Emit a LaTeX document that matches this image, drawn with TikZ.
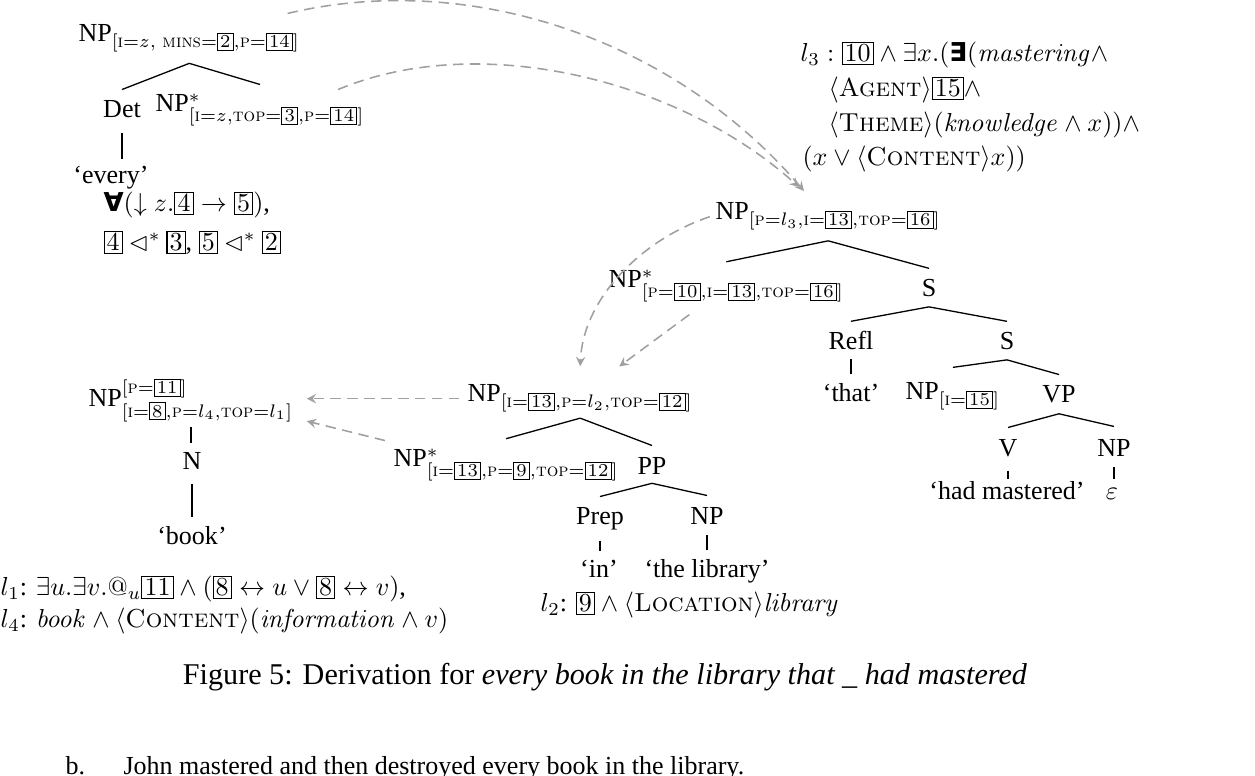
\documentclass[tikz,border=0pt]{standalone}
\usepackage{amsmath,amssymb}
\usepackage[no-math]{fontspec}
\setmainfont{Liberation Serif}
\newfontfamily\dvs{DejaVu Sans}
\usetikzlibrary{arrows}
\definecolor{move}{RGB}{160,160,160}
\newcommand\ft[1]{\text{\fontfamily{lmr}\selectfont\scshape #1}}
\newcommand\bx[1]{\text{\fboxsep=0.8pt\fboxrule=0.4pt\fbox{$#1$}}}
\newcommand\qall{\text{\dvs\bfseries\char"2200}}
\newcommand\qex{\text{\dvs\bfseries\char"2203}}

\begin{document}
\begin{tikzpicture}[
            x=0.3846pt, y=-0.3846pt,
            lab/.style={inner sep=0pt, anchor=base},
            labw/.style={inner sep=0pt, anchor=base west},
            br/.style={line width=0.5pt},
            un/.style={line width=0.5pt, shorten <=3.8pt, shorten >=3.5pt},
            mv/.style={->, >=stealth, move, line width=0.6pt, dash pattern=on 4pt off 2.5pt}
        ]
        \useasboundingbox (0,0) rectangle (1255,776);

        % every
        \node[labw] (np1) at (78,42) {NP$_{[\ft{i}=z,\ \ft{mins}=\bx{2},\ft{p}=\bx{14}]}$};
        \node[lab] (det) at (122,118) {Det};
        \node[labw] (npf1) at (155,112) {NP$^*_{[\ft{i}=z,\ft{top}=\bx{3},\ft{p}=\bx{14}]}$};
        \node[lab] (every) at (111,184) {`every'};
        \node[labw] (semA) at (103,212) {$\qall(\downarrow z.\bx{4}\rightarrow\bx{5})$,};
        \node[labw] (semB) at (103,251) {$\bx{4}\lhd^*\bx{3}$, $\bx{5}\lhd^*\bx{2}$};

        % l3 semantics
        \node[labw] (lthA) at (800,62) {$l_3 : \bx{10}\wedge\exists x.(\qex(\mathit{mastering}\wedge$};
        \node[labw] (lthB) at (828,97) {$\langle\ft{Agent}\rangle\bx{15}\wedge$};
        \node[labw] (lthC) at (828,132) {$\langle\ft{Theme}\rangle(\mathit{knowledge}\wedge x))\wedge$};
        \node[labw] (lthD) at (802,166) {$(x\vee\langle\ft{Content}\rangle x))$};
        \coordinate (tipa) at (804,191);
        \coordinate (tipb) at (799,187);

        % relative clause
        \node[labw] (npT) at (715,220) {NP$_{[\ft{p}=l_3,\ft{i}=\bx{13},\ft{top}=\bx{16}]}$};
        \node[labw] (npS) at (608,288) {NP$^*_{[\ft{p}=\bx{10},\ft{i}=\bx{13},\ft{top}=\bx{16}]}$};
        \node[lab] (sa) at (929,297) {S};
        \node[lab] (refl) at (851,350) {Refl};
        \node[lab] (that) at (851,402) {`that'};
        \node[lab] (sb) at (1007,350) {S};
        \node[labw] (npI) at (905,400) {NP$_{[\ft{i}=\bx{15}]}$};
        \node[lab] (vp) at (1059,403) {VP};
        \node[lab] (v) at (1008,457) {V};
        \node[lab] (npe) at (1114,457) {NP};
        \node[lab] (hadm) at (1007,500) {`had mastered'};
        \node[lab] (eps) at (1112,500) {$\varepsilon$};

        % in the library
        \node[labw] (npL) at (467,402) {NP$_{[\ft{i}=\bx{13},\ft{p}=l_2,\ft{top}=\bx{12}]}$};
        \node[labw] (npLS) at (393,467) {NP$^*_{[\ft{i}=\bx{13},\ft{p}=\bx{9},\ft{top}=\bx{12}]}$};
        \node[lab] (pp) at (652,475) {PP};
        \node[lab] (prep) at (600,525) {Prep};
        \node[lab] (npl) at (707,525) {NP};
        \node[lab] (in) at (599,578) {`in'};
        \node[lab] (lib) at (707,578) {`the library'};
        \node[labw] (ltwo) at (540,612) {$l_2$: $\bx{9}\wedge\langle\ft{Location}\rangle\mathit{library}$};

        % book
        \node[labw] (npB) at (88,407) {NP$^{[\ft{p}=\bx{11}]}_{[\ft{i}=\bx{8},\ft{p}=l_4,\ft{top}=l_1]}$};
        \node[lab] (n) at (192,470) {N};
        \node[lab] (book) at (192,545) {`book'};
        \node[labw] (lone) at (0,596) {$l_1$: $\exists u.\exists v.@_u\bx{11}\wedge(\bx{8}\leftrightarrow u\vee\bx{8}\leftrightarrow v)$,};
        \node[labw] (lfour) at (0,628) {$l_4$: $\mathit{book}\wedge\langle\ft{Content}\rangle(\mathit{information}\wedge v)$};

        % caption
        \node[lab, font=\fontsize{11.6}{14}\selectfont] (cap) at (605,685) {Figure 5: Derivation for \textit{every book in the library that \_ had mastered}};
        \node[labw] (exb) at (65,775) {b.};
        \node[labw] (exs) at (123,775) {John mastered and then destroyed every book in the library.};

        % branches
        \draw[br] ([yshift=-4pt]np1.south) -- ([yshift=4.2pt]det.north);
        \draw[br] ([yshift=-4pt]np1.south) -- ([yshift=3.5pt]npf1.north);
        \draw[br] ([yshift=-3.8pt]npT.south) -- ([yshift=3pt]npS.north);
        \draw[br] ([yshift=-3.8pt]npT.south) -- ([yshift=4.2pt]sa.north);
        \draw[br] ([yshift=-3.5pt]sa.south) -- ([yshift=3.8pt]refl.north);
        \draw[br] ([yshift=-3.5pt]sa.south) -- ([yshift=4.2pt]sb.north);
        \draw[br] ([yshift=-3.5pt]sb.south) -- ([yshift=5.8pt]npI.north);
        \draw[br] ([yshift=-3.5pt]sb.south) -- ([yshift=4.2pt]vp.north);
        \draw[br] ([yshift=-3.8pt]vp.south) -- ([yshift=4.6pt]v.north);
        \draw[br] ([yshift=-3.8pt]vp.south) -- ([yshift=5pt]npe.north);
        \draw[br] ([yshift=-2pt]npL.south) -- ([yshift=3.8pt]npLS.north);
        \draw[br] ([yshift=-2pt]npL.south) -- ([yshift=4.6pt]pp.north);
        \draw[br] ([yshift=-3pt]pp.south) -- ([yshift=4.2pt]prep.north);
        \draw[br] ([yshift=-3pt]pp.south) -- ([yshift=4.6pt]npl.north);

        \draw[un, shorten <=5.4pt, shorten >=2.7pt] (det.south) -- (det.south |- every.north);
        \draw[un, shorten <=3pt] (refl.south) -- (refl.south |- that.north);
        \draw[un, shorten <=5pt, shorten >=0.8pt] (v.south) -- (v.south |- hadm.north);
        \draw[un] (npe.south) -- (npe.south |- eps.north);
        \draw[un] (prep.south) -- (prep.south |- in.north);
        \draw[un] (npl.south) -- (npl.south |- lib.north);
        \draw[un, shorten <=2pt] (npB.south) -- (npB.south |- n.north);
        \draw[un, shorten <=5pt] (n.south) -- (n.south |- book.north);

        % dashed moves
        \draw[mv] ([shift={(-13,-11)}]np1.north east) .. controls (470,-30) and (674,39) .. (tipa);
        \draw[mv] ([shift={(-27,-4)}]npf1.north east) .. controls (480,30) and (680,80) .. (tipb);
        \draw[mv] ([xshift=-2pt]npT.west) .. controls (640,240) and (583,300) .. ([yshift=7pt]npL.north);
        \draw[mv] ([shift={(-37,12)}]npS.south) -- ([shift={(39,-18)}]npL.north);
        \draw[mv] ([xshift=-3pt]npL.west) -- ([xshift=5pt]npL.west -| npB.east);
        \draw[mv] ([shift={(-8,-8)}]npLS.north west) -- ([shift={(13,21)}]npB.east);

        \end{tikzpicture}
\end{document}
